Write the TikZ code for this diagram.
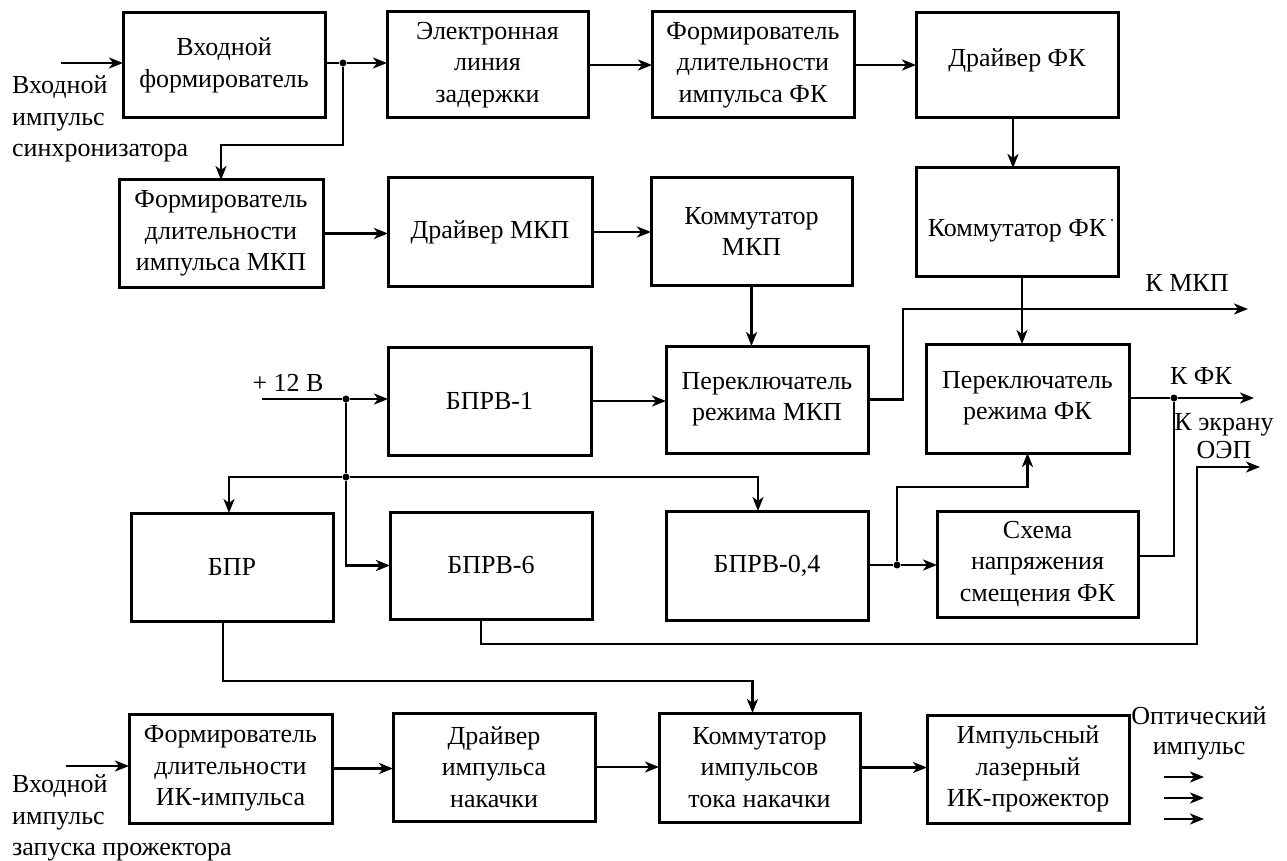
\documentclass[tikz,border=0pt]{standalone}
\usepackage{fontspec}
\setmainfont{Liberation Serif}
\usetikzlibrary{arrows.meta}
\newcommand{\blkbox}[6]{\node[blk,minimum width={#4-#2},minimum height={#5-#3}] (#1) at ({(#2+#4)/2},{(#3+#5)/2}) {#6};}
\begin{document}
\begin{tikzpicture}[x=1pt,y=-1pt,
 blk/.style={draw, line width=3pt, inner sep=0pt, outer sep=0pt, align=center, font=\fontsize{26}{31.5}\selectfont},
 wire/.style={line width=2.6pt},
 arr/.style={wire, -{Stealth[length=14pt,width=11pt,inset=4pt]}},
 dot/.style={circle, fill, inner sep=0pt, minimum size=7pt},
 lbl/.style={font=\fontsize{26}{31.5}\selectfont, inner sep=0pt}]
\useasboundingbox (0,0) rectangle (1287,861);
% boxes
\blkbox{vf}{123}{13}{325}{118}{Входной\\формирователь}
\blkbox{eld}{387}{12}{588}{118}{Электронная\\линия\\задержки}
\blkbox{ffk}{652}{12}{854}{118}{Формирователь\\длительности\\импульса ФК}
\blkbox{dfk}{916}{13}{1118}{118}{\raisebox{-1.5pt}[0pt][0pt]{Драйвер ФК}}
\blkbox{fm}{119}{180}{323}{287}{Формирователь\\длительности\\импульса МКП}
\blkbox{dm}{388}{178}{592}{286}{Драйвер МКП}
\blkbox{km}{651}{178}{852}{285}{Коммутатор\\МКП}
\blkbox{kfk}{916}{168}{1118}{276}{\raisebox{-14pt}[0pt][0pt]{Коммутатор ФК}}
\blkbox{b1}{388}{347}{591}{455}{БПРВ-1}
\blkbox{pm}{666}{346}{868}{453}{Переключатель\\режима МКП}
\blkbox{pfk}{926}{344}{1129}{453}{Переключатель\\режима ФК}
\blkbox{bpr}{131}{513}{333}{621}{БПР}
\blkbox{b6}{390}{512}{592}{619}{БПРВ-6}
\blkbox{b04}{666}{511}{868}{620}{БПРВ-0,4}
\blkbox{sch}{937}{511}{1138}{617}{Схема\\напряжения\\смещения ФК}
\blkbox{fik}{129}{714}{332}{823}{Формирователь\\длительности\\ИК-импульса}
\blkbox{dn}{393}{713}{595}{821}{Драйвер\\импульса\\накачки}
\blkbox{ki}{659}{713}{860}{822}{Коммутатор\\импульсов\\тока накачки}
\blkbox{imp}{927}{715}{1129}{823}{Импульсный\\лазерный\\ИК-прожектор}
\fill (1112,220) circle (1.2pt);
% labels
\node[lbl, align=left, anchor=west] (lin1) at (12,119) {Входной\\импульс\\синхронизатора};
\node[lbl, align=left, anchor=west] (lin2) at (12,818) {Входной\\импульс\\запуска прожектора};
\node[lbl] (l12) at (288,383) {+ 12 В};
\node[lbl] (lkm) at (1187,283) {К МКП};
\node[lbl] (lkf) at (1201,376) {К ФК};
\node[lbl, align=center] (loep) at (1224,436) {К экрану\\[-3pt]ОЭП};
\node[lbl, align=center] (lopt) at (1199,733) {Оптический\\[-1.5pt]импульс};
% top chain
\coordinate (in1) at (61,63);
\draw[arr] (in1) -- (in1 -| vf.west);
\node[dot] (j1) at (343,63) {};
\draw[wire] (vf.east |- j1) -- (j1);
\draw[arr] (j1) -- (j1 -| eld.west);
\draw[arr] (j1) -- ++(0,82) -| (fm.north);
\draw[arr] (eld.east) -- (eld.east -| ffk.west);
\draw[arr] (ffk.east) -- (ffk.east -| dfk.west);
\draw[arr] ([xshift=-4pt]dfk.south) -- ([xshift=-4pt]dfk.south |- kfk.north);
\draw[arr] (fm.east) -- (fm.east -| dm.west);
\draw[arr] (dm.east) -- (dm.east -| km.west);
\draw[arr] (km.south) -- (km.south |- pm.north);
\draw[arr] ([xshift=5pt]kfk.south) -- ([xshift=5pt]kfk.south |- pfk.north);
% power
\coordinate (v12) at (262,399);
\node[dot] (j2) at (346,399) {};
\draw[wire] (v12) -- (j2);
\draw[arr] (j2) -- (j2 -| b1.west);
\node[dot] (j3) at (346,477) {};
\draw[wire] (j2) -- (j3);
\draw[arr] (j3) |- (b6.west);
\draw[arr] (j3) -| ([xshift=-3pt]bpr.north);
\draw[arr] (j3) -| ([xshift=-9pt]b04.north);
\draw[arr] (b1.east) -- (b1.east -| pm.west);
% outputs
\coordinate (kmcp) at (1248,309);
\draw[arr] (pm.east) -- ++(35,0) |- (kmcp);
\node[dot] (j4) at (1174,398) {};
\coordinate (kfout) at (1254,398);
\draw[wire] (pfk.east |- j4) -- (j4);
\draw[arr] (j4) -- (kfout);
\draw[wire] ([yshift=8pt]sch.east) -| (j4);
\node[dot] (j5) at (897,565) {};
\draw[wire] (b04.east |- j5) -- (j5);
\draw[arr] (j5) -- (j5 -| sch.west);
\draw[arr] (j5) -- ++(0,-78) -| (pfk.south);
\coordinate (oep) at (1260,467);
\draw[arr] ([xshift=-10pt]b6.south) -- ++(0,25) -| ([xshift=-63pt]oep) -- (oep);
\draw[arr] ([xshift=-9pt]bpr.south) -- ++(0,60) -| ([xshift=-7pt]ki.north);
% bottom chain
\coordinate (in2) at (66,766);
\draw[arr] (in2) -- (in2 -| fik.west);
\draw[arr] (fik.east) -- (fik.east -| dn.west);
\draw[arr] (dn.east) -- (dn.east -| ki.west);
\draw[arr] (ki.east) -- (ki.east -| imp.west);
\foreach \i/\yy in {1/777,2/798,3/819}{
 \coordinate (oa\i) at (1164,\yy);
 \coordinate (ob\i) at (1204,\yy);
 \draw[arr] (oa\i) -- (ob\i);
}
\end{tikzpicture}
\end{document}
